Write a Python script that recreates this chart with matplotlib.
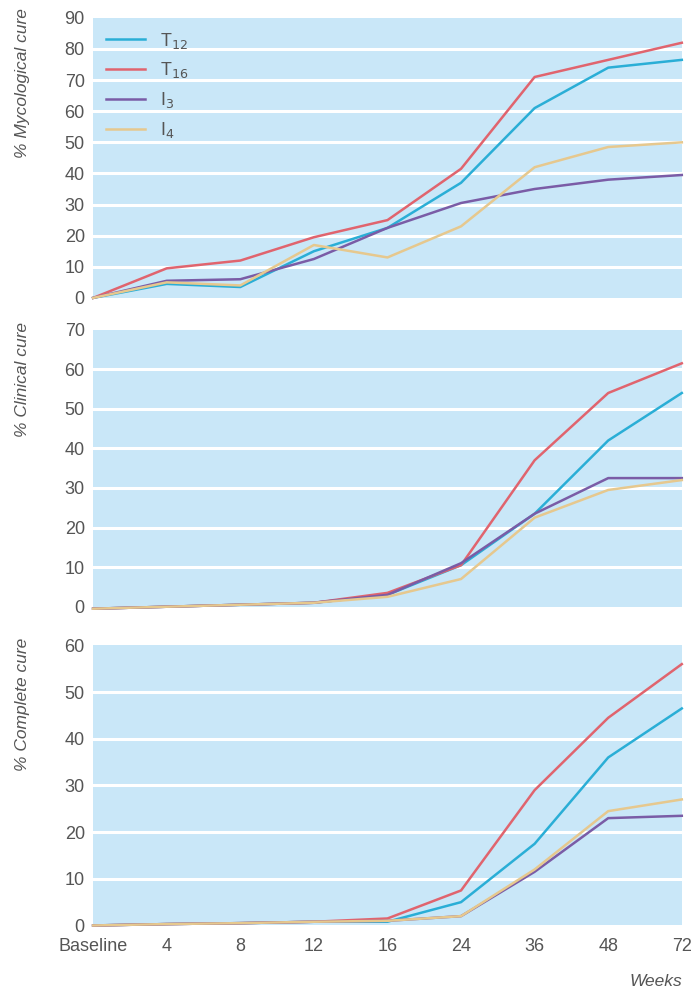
import numpy as np
import matplotlib
matplotlib.use('Agg')
import matplotlib.pyplot as plt

# ---------------- Data ---------------- #

weeks = ['Baseline', '4', '8', '12', '16', '24', '36', '48', '72']
series = ['T$_{12}$', 'T$_{16}$', 'I$_3$', 'I$_4$']

# % mycological cure
myco_T12 = [0, 4.5, 3.5, 15, 22.5, 37, 61, 74, 76.5]
myco_T16 = [0, 9.5, 12, 19.5, 25, 41.5, 71, 76.5, 82]
myco_I3 = [0, 5.5, 6, 12.5, 22.5, 30.5, 35, 38, 39.5]
myco_I4 = [0, 5, 4, 17, 13, 23, 42, 48.5, 50]

# % clinical cure
clin_T12 = [-0.5, 0, 0.5, 1, 3, 10.5, 23.5, 42, 54]
clin_T16 = [-0.5, 0, 0.5, 1, 3.5, 10.5, 37, 54, 61.5]
clin_I3 = [-0.5, 0, 0.5, 1, 3, 11, 23.5, 32.5, 32.5]
clin_I4 = [-0.5, 0, 0.5, 1, 2.5, 7, 22.5, 29.5, 32]

# % complete cure
comp_T12 = [0, 0.3, 0.5, 0.8, 0.8, 5, 17.5, 36, 46.5]
comp_T16 = [0, 0.3, 0.5, 0.8, 1.5, 7.5, 29, 44.5, 56]
comp_I3 = [0, 0.3, 0.5, 0.8, 1, 2, 11.5, 23, 23.5]
comp_I4 = [0, 0.3, 0.5, 0.8, 1, 2, 12, 24.5, 27]

# ---------------- Style ---------------- #

colors = ['#2aaed6', '#e0646e', '#7a5ca6', '#e6c88e']
bg = '#c9e7f8'
txt = '#555555'
plt.rcParams['font.family'] = ['Liberation Sans', 'DejaVu Sans']

# label, data, ymax, axes rect, label top (fig fraction)
panels = [
    ('% Mycological cure', [myco_T12, myco_T16, myco_I3, myco_I4], 90, [0.134, 0.700, 0.847, 0.282], 0.992),
    ('% Clinical cure', [clin_T12, clin_T16, clin_I3, clin_I4], 70, [0.134, 0.389, 0.847, 0.279], 0.676),
    ('% Complete cure', [comp_T12, comp_T16, comp_I3, comp_I4], 60, [0.134, 0.068, 0.847, 0.282], 0.358),
]

fig = plt.figure(figsize=(6.95, 9.93), dpi=100)
x = np.arange(len(weeks))

for i, (label, data, ymax, pos, ltop) in enumerate(panels):
    ax = fig.add_axes(pos)
    ax.set_facecolor(bg)
    for s in ax.spines.values():
        s.set_visible(False)
    ax.set_xlim(0, len(weeks) - 1)
    ax.set_ylim(0, ymax)
    ax.set_yticks(np.arange(0, ymax + 1, 10))
    for yv in np.arange(10, ymax, 10):
        ax.axhline(yv, color='white', lw=2.2, zorder=1)
    for vals, c, name in zip(data, colors, series):
        ax.plot(x, vals, color=c, lw=1.8, label=name, zorder=3, clip_on=False)
    ax.tick_params(axis='y', length=0, labelsize=13, labelcolor=txt, pad=6)
    fig.text(0.032, ltop, label, rotation=90, ha='center', va='top',
             fontsize=12.5, color=txt, style='italic')
    if i == 2:
        ax.set_xticks(x)
        ax.set_xticklabels(weeks)
        ax.tick_params(axis='x', length=0, labelsize=13, labelcolor=txt, pad=9)
        ax.text(1.0, -0.2, 'Weeks', transform=ax.transAxes, ha='right', va='center',
                fontsize=12.5, style='italic', color=txt)
    else:
        ax.set_xticks([])
    if i == 0:
        ax.legend(loc='upper left', frameon=False, fontsize=13, handlelength=2.2,
                  labelspacing=0.55, borderaxespad=0.3, labelcolor=txt)

plt.savefig('out.png', dpi=100, facecolor='white')
